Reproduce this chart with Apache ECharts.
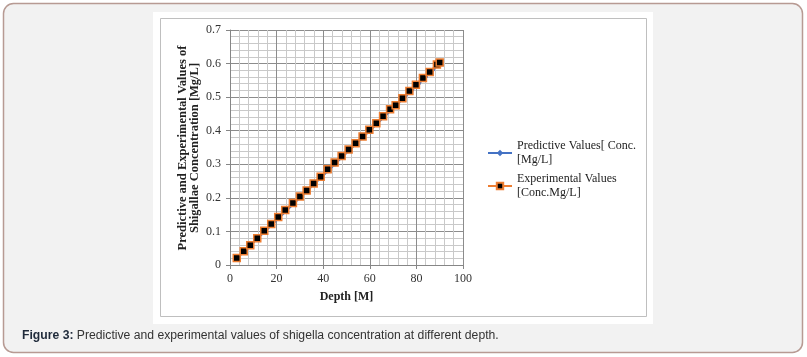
<!DOCTYPE html>
<html>
<head>
<meta charset="utf-8">
<script src="https://cdn.jsdelivr.net/npm/echarts@6/dist/echarts.min.js"></script>
<style>
  html, body { margin: 0; padding: 0; background: #ffffff; }
  #main { width: 807px; height: 357px; }
</style>
</head>
<body>
<div id="main"></div>
<script>
var chartDom = document.getElementById('main');
var myChart = echarts.init(chartDom);
var option;

// depth [M]
var expDepth = [2.9, 5.9, 8.7, 11.7, 14.7, 17.7, 20.7, 23.7, 27.0, 30.0, 32.9, 35.9, 38.9, 41.9, 44.9, 47.9,
    50.9, 53.9, 56.9, 59.8, 62.8, 65.7, 68.7, 71.1, 74.0, 77.0, 79.8, 82.8, 85.7, 88.8, 90.0];
var expConc = [0.021, 0.041, 0.059, 0.080, 0.102, 0.122, 0.143, 0.164, 0.185, 0.204, 0.222, 0.243, 0.263, 0.285, 0.305, 0.325,
    0.344, 0.363, 0.383, 0.403, 0.422, 0.443, 0.464, 0.476, 0.497, 0.518, 0.537, 0.557, 0.575, 0.597, 0.603];
var predDepth = [3, 6, 9, 12, 15, 18, 21, 24, 27, 30, 33, 36, 39, 42, 45, 48,
    51, 54, 57, 60, 63, 66, 69, 72, 75, 78, 81, 84, 87, 90];
var predConc = [0.02, 0.04, 0.06, 0.08, 0.10, 0.12, 0.14, 0.16, 0.18, 0.20, 0.22, 0.24, 0.26, 0.28, 0.30, 0.32,
    0.34, 0.36, 0.38, 0.40, 0.42, 0.44, 0.46, 0.48, 0.50, 0.52, 0.54, 0.56, 0.58, 0.60];
var seriesNames = ['Predictive Values[ Conc.\n[Mg/L]', 'Experimental Values\n[Conc.Mg/L]'];

function pairs(xs, ys) {
    return xs.map(function (x, i) { return [x, ys[i]]; });
}

var serif = '"Liberation Serif", "DejaVu Serif", serif';
var sans = '"Liberation Sans", Arial, sans-serif';

option = {
    animation: false,
    backgroundColor: '#ffffff',
    grid: { left: 230, right: 344, top: 30, bottom: 92 },
    legend: {
        left: 482,
        top: 128,
        orient: 'vertical',
        itemWidth: 24,
        itemHeight: 8,
        itemGap: -7,
        data: seriesNames,
        textStyle: { fontFamily: serif, fontSize: 12, color: '#222', lineHeight: 13.5, padding: [13, 0, 0, 0] }
    },
    xAxis: {
        type: 'value',
        min: 0, max: 100, interval: 20,
        name: 'Depth [M]',
        nameLocation: 'middle',
        nameGap: 26,
        nameTextStyle: { fontFamily: serif, fontWeight: 'bold', fontSize: 12, color: '#222' },
        axisLine: { show: true, lineStyle: { color: '#868686', width: 1 } },
        axisTick: { show: true, length: 4, lineStyle: { color: '#868686' } },
        axisLabel: { fontFamily: serif, fontSize: 12, color: '#333', margin: 8 },
        splitLine: { show: true, lineStyle: { color: '#8c8c8c', width: 1 } },
        minorTick: { show: false, splitNumber: 5 },
        minorSplitLine: { show: true, lineStyle: { color: '#c9c9c9', width: 1 } }
    },
    yAxis: {
        type: 'value',
        min: 0, max: 0.7, interval: 0.1,
        axisLine: { show: true, lineStyle: { color: '#868686', width: 1 } },
        axisTick: { show: true, length: 4, lineStyle: { color: '#868686' } },
        axisLabel: { fontFamily: serif, fontSize: 12, color: '#333', margin: 9 },
        splitLine: { show: true, lineStyle: { color: '#8c8c8c', width: 1 } },
        minorTick: { show: false, splitNumber: 5 },
        minorSplitLine: { show: true, lineStyle: { color: '#c9c9c9', width: 1 } }
    },
    graphic: [
        { type: 'rect', z: -10, silent: true, shape: { x: 3.5, y: 3.5, width: 799, height: 349, r: 10 },
          style: { fill: '#f2f2f2', stroke: '#b79a93', lineWidth: 1.5 } },
        { type: 'rect', z: -9, silent: true, shape: { x: 153, y: 12, width: 500, height: 312 },
          style: { fill: '#ffffff' } },
        { type: 'rect', z: -8, silent: true, shape: { x: 160.5, y: 18.5, width: 486, height: 298 },
          style: { fill: '#ffffff', stroke: '#bfbfbf', lineWidth: 1 } },
        { type: 'text', silent: true, x: 183, y: 148, rotation: Math.PI / 2,
          style: { text: 'Predictive and Experimental Values of', fontFamily: serif, fontWeight: 'bold',
                   fontSize: 12.5, fill: '#222', align: 'center', verticalAlign: 'middle' } },
        { type: 'text', silent: true, x: 195, y: 148, rotation: Math.PI / 2,
          style: { text: 'Shigallae Concentration [Mg/L]', fontFamily: serif, fontWeight: 'bold',
                   fontSize: 12.5, fill: '#222', align: 'center', verticalAlign: 'middle' } },
        { type: 'text', silent: true, x: 22, y: 336, scaleX: 0.975,
          style: { text: '{b|Figure 3:} Predictive and experimental values of shigella concentration at different depth.',
                   fontFamily: sans, fontSize: 12.5, fill: '#333', verticalAlign: 'middle',
                   rich: { b: { fontWeight: 'bold', fontFamily: sans, fontSize: 12.5, fill: '#1f2a3a' } } } }
    ],
    series: [
        {
            name: seriesNames[0],
            type: 'line',
            data: pairs(predDepth, predConc),
            symbol: 'diamond',
            symbolSize: 5,
            lineStyle: { color: '#4472c4', width: 2 },
            itemStyle: { color: '#4472c4' },
            z: 2
        },
        {
            name: seriesNames[1],
            type: 'line',
            data: pairs(expDepth, expConc),
            symbol: 'rect',
            symbolSize: 7,
            lineStyle: { color: '#ed7d31', width: 2 },
            itemStyle: { color: '#000000', borderColor: '#ed7d31', borderWidth: 1.5 },
            z: 3
        }
    ]
};

option && myChart.setOption(option);
</script>
</body>
</html>
